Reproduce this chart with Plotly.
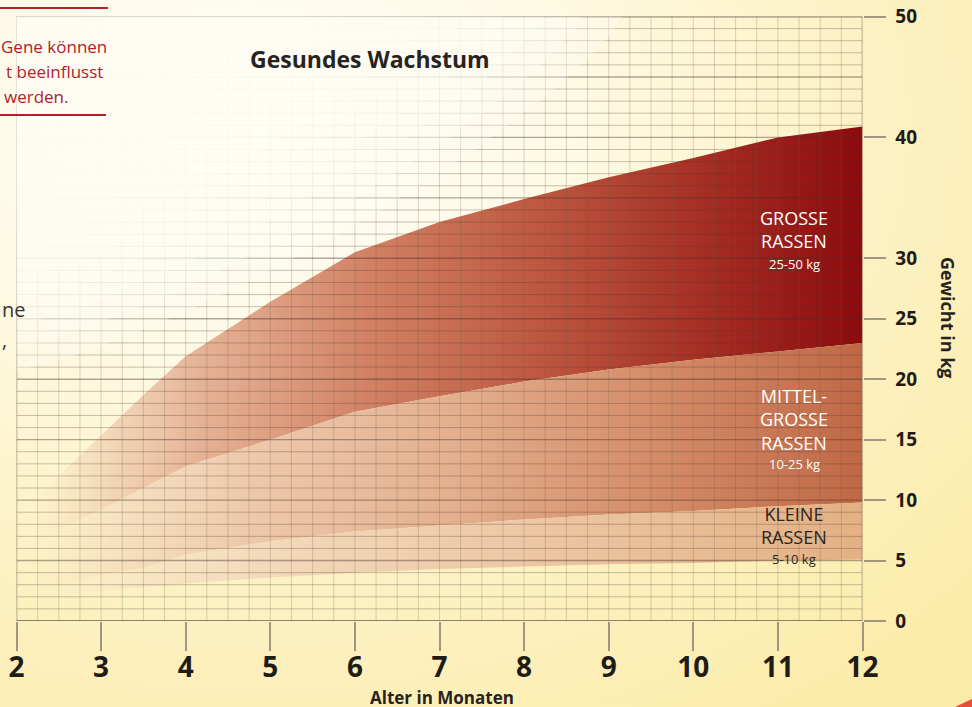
import math
import plotly.graph_objects as go

# ---------------- data ----------------
months = [2.2, 2.5, 3, 3.5, 4, 5, 6, 7, 8, 9, 10, 11, 12]
large_upper = [10.0, 12.0, 15.3, 18.7, 21.9, 26.4, 30.5, 33.0, 34.9, 36.7, 38.3, 40.0, 40.9]
medium_upper = [6.5, 7.6, 9.2, 11.0, 12.8, 15.0, 17.3, 18.6, 19.8, 20.8, 21.6, 22.3, 23.0]
small_upper = [2.6, 3.0, 3.8, 4.4, 5.5, 6.6, 7.4, 7.9, 8.4, 8.8, 9.1, 9.5, 9.8]
small_lower = [2.0, 2.2, 2.5, 2.8, 3.1, 3.6, 4.0, 4.3, 4.5, 4.7, 4.8, 5.0, 5.1]

x_ticks = [2, 3, 4, 5, 6, 7, 8, 9, 10, 11, 12]
y_ticks = [0, 5, 10, 15, 20, 25, 30, 40, 50]

band_names = ["Grosse Rassen", "Mittelgrosse Rassen", "Kleine Rassen"]
band_titles = ["GROSSE<br>RASSEN", "MITTEL-<br>GROSSE<br>RASSEN", "KLEINE<br>RASSEN"]
band_ranges = ["25-50 kg", "10-25 kg", "5-10 kg"]

# ---------------- geometry / style ----------------
W, H = 972, 707
X0PX, X1PX = 16.5, 862.5
Y0PX, Y1PX = 621, 16.5
XMIN, XMAX = 2, 12
YMIN, YMAX = 0, 50

FONT = "Open Sans"
DARK = "#1f1b17"

def px2x(px):
    return XMIN + (px - X0PX) / (X1PX - X0PX) * (XMAX - XMIN)

def py2y(py):
    return YMIN + (Y0PX - py) / (Y0PX - Y1PX) * (YMAX - YMIN)

fig = go.Figure()

# background (full-paper subplot)
cx, cy, hw, hh = 250, 120, 1000, 750
fig.add_trace(go.Scatter(
    x=[cx - hw, cx + hw, cx + hw, cx - hw, cx - hw],
    y=[cy - hh, cy - hh, cy + hh, cy + hh, cy - hh],
    mode="lines", line=dict(width=0), fill="toself",
    fillgradient=dict(type="radial", colorscale=[
        [0, "rgb(255,254,249)"], [0.3, "rgb(254,250,230)"],
        [0.6, "rgb(253,242,198)"], [1, "rgb(252,235,168)"]]),
    hoverinfo="skip", showlegend=False, xaxis="x", yaxis="y"))

# bands
band_bounds = [(large_upper, medium_upper), (medium_upper, small_upper), (small_upper, small_lower)]
band_scales = [
    [[0, "rgba(240,200,170,0)"], [0.1, "rgba(232,184,155,0.55)"], [0.2, "rgba(226,166,136,0.85)"],
     [0.4, "rgb(210,130,100)"], [0.6, "rgb(190,90,66)"], [0.8, "rgb(166,48,36)"], [1, "rgb(140,10,14)"]],
    [[0, "rgba(245,215,190,0)"], [0.12, "rgba(240,207,180,0.6)"], [0.25, "rgba(236,197,168,0.9)"],
     [0.5, "rgb(228,176,142)"], [0.75, "rgb(212,140,104)"], [1, "rgb(192,104,70)"]],
    [[0, "rgba(248,228,200,0)"], [0.15, "rgba(245,222,192,0.7)"], [0.3, "rgba(242,214,184,0.95)"],
     [1, "rgb(228,176,132)"]],
]
for name, (up, lo), cs in zip(band_names, band_bounds, band_scales):
    fig.add_trace(go.Scatter(
        x=months + months[::-1], y=up + lo[::-1],
        mode="lines", line=dict(width=0), fill="toself",
        fillgradient=dict(type="horizontal", colorscale=cs, start=months[0], stop=months[-1]),
        name=name, hoverinfo="skip", showlegend=False, xaxis="x2", yaxis="y2"))

# grid lines drawn above the bands
quarters = [XMIN + 0.25 * i for i in range(int((XMAX - XMIN) / 0.25) + 1)]
kgs = list(range(YMIN, YMAX + 1))

def vlines(vals):
    xs, ys = [], []
    for v in vals:
        xs += [v, v, None]
        ys += [YMIN, YMAX, None]
    return xs, ys

def hlines(vals):
    xs, ys = [], []
    for v in vals:
        xs += [XMIN, XMAX, None]
        ys += [v, v, None]
    return xs, ys

def add_lines(xs, ys, color, width):
    fig.add_trace(go.Scatter(x=xs, y=ys, mode="lines", line=dict(color=color, width=width),
                             hoverinfo="skip", showlegend=False, xaxis="x2", yaxis="y2"))

add_lines(*vlines(quarters), "rgba(105,95,85,0.26)", 1)
add_lines(*vlines([XMIN, XMAX]), "rgba(105,95,85,0.35)", 2)
add_lines(*hlines([k for k in kgs if k % 5 != 0]), "rgba(75,55,45,0.30)", 1)
add_lines(*hlines([k for k in kgs if k % 5 == 0]), "rgba(70,50,40,0.42)", 1.4)
add_lines(*hlines([YMIN, YMAX]), "rgba(70,50,40,0.38)", 2)

# fade of the grid towards the upper-left corner: nested translucent layers
FA, FB, FN = 484.0, 283.0, 1.25
n_layers = 9
for k in range(n_layers):
    s = 0.6 + k * (0.65 / (n_layers - 1))
    xs, ys = [XMIN], [YMAX]
    for i in range(41):
        t = (math.pi / 2) * i / 40
        xp = FA * s * math.cos(t) ** (2 / FN)
        yp = FB * s * math.sin(t) ** (2 / FN)
        xs.append(px2x(X0PX + xp))
        ys.append(py2y(Y1PX + yp))
    xs.append(XMIN)
    ys.append(YMAX)
    fig.add_trace(go.Scatter(x=xs, y=ys, mode="lines", line=dict(width=0), fill="toself",
                             fillcolor="rgba(254,252,243,0.34)",
                             hoverinfo="skip", showlegend=False, xaxis="x2", yaxis="y2"))

# ---------------- annotations ----------------
ann = []
label_x = px2x(794)
title_rows = [230, 419, 525]
range_rows = [264, 464, 559]
title_cols = ["white", "white", "#2a2420"]
for t, r, tr, rr, col in zip(band_titles, band_ranges, title_rows, range_rows, title_cols):
    ann.append(dict(x=label_x, y=py2y(tr), xref="x2", yref="y2", text=t, showarrow=False,
                    font=dict(family=FONT, size=18, color=col),
                    xanchor="center", yanchor="middle"))
    ann.append(dict(x=label_x, y=py2y(rr), xref="x2", yref="y2", text=r, showarrow=False,
                    font=dict(family=FONT, size=13, color=col),
                    xanchor="center", yanchor="middle"))

ann.append(dict(x=370 / W, y=1 - 59 / H, xref="paper", yref="paper", text="<b>Gesundes Wachstum</b>",
                showarrow=False, font=dict(family=FONT, size=23, color="#27231f"),
                xanchor="center", yanchor="middle"))
ann.append(dict(x=442 / W, y=1 - 697 / H, xref="paper", yref="paper", text="<b>Alter in Monaten</b>",
                showarrow=False, font=dict(family=FONT, size=17, color="#27231f"),
                height=18, valign="middle", xanchor="center", yanchor="middle"))
ann.append(dict(x=948 / W, y=1 - 317 / H, xref="paper", yref="paper", text="<b>Gewicht in kg</b>",
                showarrow=False, textangle=90, font=dict(family=FONT, size=18, color="#27231f"),
                xanchor="center", yanchor="middle"))

RED = "rgb(178,32,42)"
for t, xr, yc in [("Gene können", 109, 46), ("t beeinflusst", 105, 71), ("werden.", 71, 96)]:
    ann.append(dict(x=xr / W, y=1 - yc / H, xref="paper", yref="paper", text=t, showarrow=False,
                    font=dict(family=FONT, size=17, color=RED), xanchor="right", yanchor="middle"))
ann.append(dict(x=0, y=1 - 309 / H, xref="paper", yref="paper", text="ne", showarrow=False,
                font=dict(family=FONT, size=20, color="#3a3632"), xanchor="left", yanchor="middle"))
ann.append(dict(x=0, y=1 - 340 / H, xref="paper", yref="paper", text=",", showarrow=False,
                font=dict(family=FONT, size=20, color="#3a3632"), xanchor="left", yanchor="middle"))

shapes = [
    dict(type="line", xref="paper", yref="paper", x0=0, x1=108 / W, y0=1 - 8 / H, y1=1 - 8 / H,
         line=dict(color=RED, width=2)),
    dict(type="line", xref="paper", yref="paper", x0=0, x1=106 / W, y0=1 - 115 / H, y1=1 - 115 / H,
         line=dict(color=RED, width=2)),
    dict(type="path", xref="paper", yref="paper",
         path=f"M {955 / W} 0 L 1 {8 / H} L 1 0 Z", fillcolor="rgb(232,78,60)", line=dict(width=0)),
]

fig.update_layout(
    width=W, height=H, autosize=False, margin=dict(l=0, r=0, t=0, b=0, pad=0),
    paper_bgcolor="rgb(254,248,220)", plot_bgcolor="rgba(0,0,0,0)",
    showlegend=False, annotations=ann, shapes=shapes,
    xaxis=dict(domain=[0, 1], range=[0, W], visible=False, fixedrange=True, automargin=False),
    yaxis=dict(domain=[0, 1], range=[H, 0], visible=False, fixedrange=True, automargin=False),
    xaxis2=dict(domain=[X0PX / W, X1PX / W], range=[XMIN, XMAX], anchor="y2", automargin=False,
                tickvals=x_ticks, ticktext=[f"<b>{v}</b>" for v in x_ticks],
                ticks="outside", ticklen=29, tickwidth=1.5, tickcolor="rgba(130,120,110,0.75)",
                ticklabelstandoff=-8,
                showgrid=False, zeroline=False, showline=False, fixedrange=True,
                tickfont=dict(family=FONT, size=28, color=DARK)),
    yaxis2=dict(domain=[(H - Y0PX) / H, (H - Y1PX) / H], range=[YMIN, YMAX], anchor="x2", side="right",
                automargin=False, fixedrange=True,
                tickvals=y_ticks, ticktext=[f"<b>{v}</b>" for v in y_ticks],
                ticks="outside", ticklen=22, tickwidth=1.5, tickcolor="rgba(130,120,110,0.75)",
                ticklabelstandoff=6,
                showgrid=False, zeroline=False, showline=False,
                tickfont=dict(family=FONT, size=19, color=DARK)),
)

post = ("document.documentElement.style.margin='0';document.body.style.margin='0';"
        "document.body.style.padding='0';document.body.style.overflow='hidden';"
        "var gd=document.getElementById('{plot_id}');"
        "Plotly.relayout(gd,{width:972,height:707});")
fig.write_html("out.html", post_script=post,
               config={"responsive": False, "displayModeBar": False})
